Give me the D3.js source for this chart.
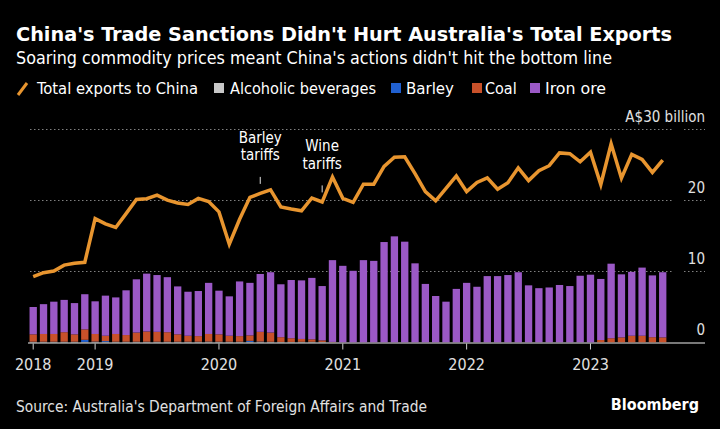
<!DOCTYPE html>
<html><head><meta charset="utf-8">
<script src="https://cdn.jsdelivr.net/npm/d3@7"></script>
<style>
html,body{margin:0;padding:0;background:#000;}
svg{display:block;}
text{font-family:'Liberation Sans Narrow','DejaVu Sans Condensed','Arial Narrow',sans-serif;}
</style></head>
<body>
<svg id="chart" width="720" height="429"></svg>
<script>
// ---- data ----
const months = ["2018-07","2018-08","2018-09","2018-10","2018-11","2018-12",
"2019-01","2019-02","2019-03","2019-04","2019-05","2019-06","2019-07","2019-08","2019-09","2019-10","2019-11","2019-12",
"2020-01","2020-02","2020-03","2020-04","2020-05","2020-06","2020-07","2020-08","2020-09","2020-10","2020-11","2020-12",
"2021-01","2021-02","2021-03","2021-04","2021-05","2021-06","2021-07","2021-08","2021-09","2021-10","2021-11","2021-12",
"2022-01","2022-02","2022-03","2022-04","2022-05","2022-06","2022-07","2022-08","2022-09","2022-10","2022-11","2022-12",
"2023-01","2023-02","2023-03","2023-04","2023-05","2023-06","2023-07","2023-08"];

const totalExports = [9.27,9.83,10.07,10.9,11.15,11.3,
17.45,16.7,16.2,18.15,20.15,20.25,20.75,20.05,19.65,19.45,20.3,19.85,
18.4,13.85,17.35,20.45,21.0,21.5,19.1,18.8,18.55,20.35,19.8,23.3,
20.3,19.75,22.3,22.3,24.8,26.1,26.15,23.8,21.25,19.95,21.7,23.45,
21.25,22.55,23.2,21.6,22.5,24.6,22.8,24.2,24.9,26.7,26.6,25.45,
26.8,22.25,28.0,23.15,26.5,25.8,23.95,25.7];

const alcoholic = [0.08,0.08,0.08,0.08,0.08,0.08,
0.08,0.08,0.08,0.08,0.08,0.08,0.08,0.08,0.08,0.08,0.08,0.1,
0.08,0.08,0.08,0.08,0.08,0.08,0.08,0.08,0.1,0.1,0.08,0.03,
0,0,0,0,0,0,0,0,0,0,0,0,
0,0,0,0,0,0,0,0,0,0,0,0,
0,0,0,0,0,0,0,0];

const barley = [0.03,0.03,0.03,0.03,0.03,0.3,
0.05,0.12,0.03,0.03,0.03,0.03,0.03,0.03,0.03,0.03,0.03,0.03,
0.03,0.03,0.03,0.15,0.05,0.02,0,0,0,0,0,0,
0,0,0,0,0,0,0,0,0,0,0,0,
0,0,0,0,0,0,0,0,0,0,0,0,
0,0,0,0,0,0,0,0];

const coal = [1.04,1.09,1.09,1.34,1.04,1.47,
1.07,0.75,1.09,0.94,1.29,1.44,1.39,1.34,1.04,0.84,0.79,1.07,
1.04,0.84,0.79,0.77,1.37,1.30,0.67,0.52,0.40,0.35,0.22,0.05,
0,0,0,0,0,0,0,0,0,0,0,0,
0,0,0,0,0,0,0,0,0,0,0,0,
0,0.35,0.6,0.72,0.95,0.95,0.75,0.72];

const ironOre = [3.85,4.2,4.55,4.55,4.4,4.95,
4.6,5.65,5.15,6.3,7.5,8.15,8.0,7.75,6.75,6.2,6.35,7.2,
6.15,5.55,7.7,7.4,8.15,8.5,7.45,8.2,8.25,8.65,7.65,11.52,
10.8,10.1,11.6,11.5,14.15,14.95,14.2,11.15,8.25,6.55,5.75,7.55,
8.4,7.85,9.35,9.35,9.5,9.9,8.05,7.65,7.75,8.1,7.95,9.4,
9.55,8.6,10.5,8.88,9.0,9.6,8.7,9.18];

const seriesKeys = ["Alcoholic beverages","Barley","Coal","Iron ore"];
const seriesColors = ["#c8c8c8","#2060d0","#c8512a","#9b59c6"];
const lineName = "Total exports to China";
const lineColor = "#e8952f";

const yTicks = [0,10,20,30];
const yTickLabels = ["0","10","20","A$30 billion"];
const xTickMonths = ["2018-07","2019-01","2020-01","2021-01","2022-01","2023-01"];
const xTickLabels = ["2018","2019","2020","2021","2022","2023"];

const annotations = [
  {month:"2020-05", lines:["Barley","tariffs"]},
  {month:"2020-11", lines:["Wine","tariffs"]}
];

const title = "China's Trade Sanctions Didn't Hurt Australia's Total Exports";
const subtitle = "Soaring commodity prices meant China's actions didn't hit the bottom line";
const source = "Source: Australia's Department of Foreign Affairs and Trade";

// ---- build ----
const svg = d3.select("#chart");
svg.append("rect").attr("width",720).attr("height",429).attr("fill","#000");

const x = d3.scaleBand().domain(months).range([28.04, 667.88]).paddingInner(0.29).paddingOuter(0.145);
const y = d3.scaleLinear().domain([0,30]).range([342.5,129.5]);
const xc = m => x(m) + x.bandwidth()/2;

function fit(sel, w){
  const n = sel.node();
  const cur = n.getComputedTextLength();
  if (Math.abs(cur - w) > 1) sel.attr("textLength", w).attr("lengthAdjust","spacingAndGlyphs");
  return sel;
}

// title
fit(svg.append("text").attr("x",16).attr("y",41).attr("fill","#fff")
  .attr("font-size",20).attr("font-weight","bold").text(title), 656);
fit(svg.append("text").attr("x",16).attr("y",64).attr("fill","#fff")
  .attr("font-size",17.5).text(subtitle), 596);

// legend
const lg = svg.append("g");
lg.append("line").attr("x1",18).attr("y1",95).attr("x2",27).attr("y2",83)
  .attr("stroke",lineColor).attr("stroke-width",3);
fit(lg.append("text").attr("x",37).attr("y",94).attr("fill","#fff").attr("font-size",16).text(lineName),161);
const legendPos = [[214,230,146],[391,406,48],[472,485,31],[530,545,61]];
seriesKeys.forEach((k,i)=>{
  const [sx,tx,tw] = legendPos[i];
  lg.append("rect").attr("x",sx).attr("y",83).attr("width",10).attr("height",10).attr("fill",seriesColors[i]);
  fit(lg.append("text").attr("x",tx).attr("y",94).attr("fill","#fff").attr("font-size",16).text(k), tw);
});

// grid
const grid = svg.append("g");
yTicks.forEach((t,i)=>{
  if (t===0){
    grid.append("line").attr("x1",28).attr("x2",705).attr("y1",y(0)+0.5).attr("y2",y(0)+0.5)
      .attr("stroke","#a0a0a0").attr("stroke-width",1);
  } else {
    [[30,672],[684,705]].forEach(([a,b])=>{
      grid.append("line").attr("x1",a).attr("x2",b).attr("y1",y(t)).attr("y2",y(t))
        .attr("stroke","#808080").attr("stroke-width",1).attr("stroke-dasharray","1.5,2.5");
    });
  }
  svg.append("text").attr("x",705).attr("y",y(t)-8).attr("text-anchor","end")
    .attr("fill","#e0e0e0").attr("font-size",15).text(yTickLabels[i]);
});

// stacked bars
const table = months.map((m,i)=>({month:m,
  "Alcoholic beverages":alcoholic[i], "Barley":barley[i], "Coal":coal[i], "Iron ore":ironOre[i]}));
const stacked = d3.stack().keys(seriesKeys)(table);
svg.append("g").selectAll("g").data(stacked).join("g")
  .attr("fill",(d,i)=>seriesColors[i])
  .selectAll("rect").data(d=>d).join("rect")
  .attr("x",d=>x(d.data.month)).attr("width",x.bandwidth())
  .attr("y",d=>y(d[1])).attr("height",d=>Math.max(0,y(d[0])-y(d[1])));

// redraw baseline on top
svg.append("line").attr("x1",28).attr("x2",705).attr("y1",y(0)+0.5).attr("y2",y(0)+0.5)
  .attr("stroke","#a0a0a0").attr("stroke-width",1);

// line
const line = d3.line().x((d,i)=>xc(months[i])).y(d=>y(d)).curve(d3.curveLinear);
svg.append("path").datum(totalExports).attr("d",line).attr("fill","none")
  .attr("stroke",lineColor).attr("stroke-width",3.5).attr("stroke-linejoin","miter").attr("stroke-linecap","butt");

// x axis
const xa = svg.append("g");
xTickMonths.forEach((m,i)=>{
  xa.append("line").attr("x1",xc(m)).attr("x2",xc(m)).attr("y1",y(0)+1).attr("y2",y(0)+7)
    .attr("stroke","#d0d0d0").attr("stroke-width",1);
  xa.append("text").attr("x",xc(m)).attr("y",370).attr("text-anchor","middle")
    .attr("fill","#e0e0e0").attr("font-size",16).text(xTickLabels[i]);
});

// annotations
annotations.forEach(a=>{
  const i = months.indexOf(a.month);
  const cx = xc(a.month);
  const vy = y(totalExports[i]);
  const tickBottom = vy - 9.5, tickTop = tickBottom - 7;
  a.lines.forEach((ln,j)=>{
    svg.append("text").attr("text-anchor","middle").attr("fill","#fff").attr("font-size",15)
      .attr("x",cx).attr("y",tickTop - 16.5 - (a.lines.length-1-j)*17.5).text(ln);
  });
  svg.append("line").attr("x1",cx).attr("x2",cx).attr("y1",tickTop).attr("y2",tickBottom)
    .attr("stroke","#e0e0e0").attr("stroke-width",1);
});

// source
fit(svg.append("text").attr("x",16).attr("y",412).attr("fill","#e0e0e0").attr("font-size",15).text(source), 411);
svg.append("text").attr("x",699).attr("y",410).attr("text-anchor","end").attr("fill","#fff")
  .attr("font-size",16).attr("font-weight","bold").text("Bloomberg");
</script>
</body></html>
